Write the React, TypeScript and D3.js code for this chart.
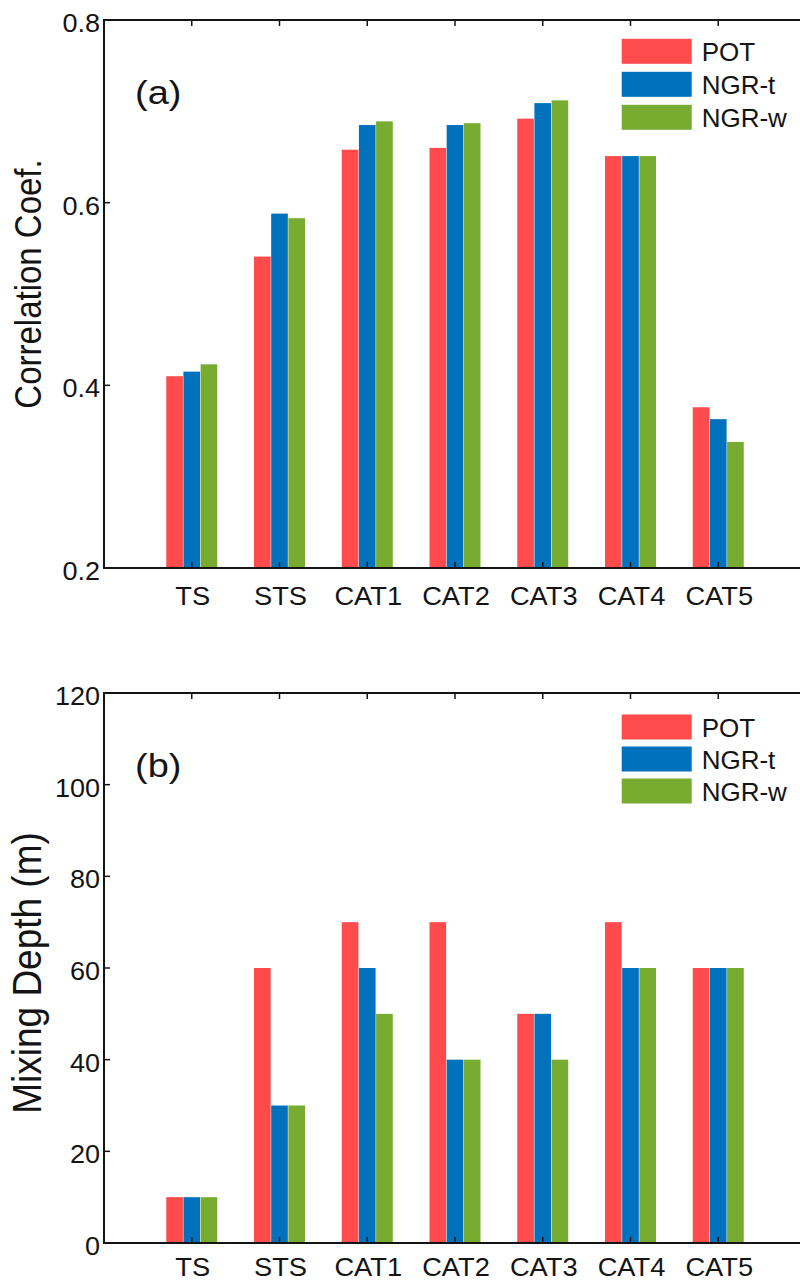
import React from "react";
import * as d3 from "d3";

const categories = ["TS", "STS", "CAT1", "CAT2", "CAT3", "CAT4", "CAT5"];
const seriesNames = ["POT", "NGR-t", "NGR-w"];
const seriesColors = ["#FF4B4B", "#0072BD", "#77AC30"];

const corrPOT = [0.41, 0.541, 0.658, 0.66, 0.692, 0.651, 0.376];
const corrNGRt = [0.415, 0.588, 0.685, 0.685, 0.709, 0.651, 0.363];
const corrNGRw = [0.423, 0.583, 0.689, 0.687, 0.712, 0.651, 0.338];
const corrTicks = [0.2, 0.4, 0.6, 0.8];

const depthPOT = [10, 60, 70, 70, 50, 70, 60];
const depthNGRt = [10, 30, 60, 40, 50, 60, 60];
const depthNGRw = [10, 30, 50, 40, 40, 60, 60];
const depthTicks = [0, 20, 40, 60, 80, 100, 120];

const FONT = "'Liberation Sans', Arial, Helvetica, sans-serif";
const INK = "#141414";

type PanelProps = {
  top: number;
  bottom: number;
  domain: [number, number];
  ticks: number[];
  fmt: (v: number) => string;
  series: number[][];
  yLabel: string;
  yLabelY: number;
  yLabelSize: number;
  panelLabel: string;
  panelLabelY: number;
  xLabelY: number;
  legendTop: number;
  legendStep: number;
};

function Panel(p: PanelProps) {
  const x = d3.scaleLinear().domain([0, categories.length + 1]).range([104, 806]);
  const y = d3.scaleLinear().domain(p.domain).range([p.bottom, p.top]);
  const inner = d3.scaleBand<string>().domain(seriesNames).range([-25.5, 25.5]).paddingInner(0.03);
  const left = x(0);
  const right = x(categories.length + 1);
  const tickLen = 6;
  const idx = d3.range(1, categories.length + 1);
  return (
    <g>
      {p.series.map((vals, s) =>
        vals.map((v, i) => {
          const cx = x(i + 1);
          const bx = cx + (inner(seriesNames[s]) as number);
          return (
            <rect
              key={`b${s}-${i}`}
              x={bx}
              y={y(v)}
              width={inner.bandwidth()}
              height={y(p.domain[0]) - y(v)}
              fill={seriesColors[s]}
            />
          );
        })
      )}
      <rect x={left} y={p.top} width={right - left} height={p.bottom - p.top} fill="none" stroke={INK} strokeWidth={2} />
      {idx.map((i) => (
        <g key={`xt${i}`}>
          <line x1={x(i)} x2={x(i)} y1={p.bottom} y2={p.bottom - tickLen} stroke={INK} strokeWidth={1.5} />
          <line x1={x(i)} x2={x(i)} y1={p.top} y2={p.top + tickLen} stroke={INK} strokeWidth={1.5} />
          <text
            transform={`translate(${x(i) + 1},${p.xLabelY}) scale(1.05,1)`}
            textAnchor="middle"
            fontFamily={FONT}
            fontSize={26}
            fill={INK}
          >
            {categories[i - 1]}
          </text>
        </g>
      ))}
      {p.ticks.map((t) => (
        <g key={`yt${t}`}>
          <line x1={left} x2={left + tickLen} y1={y(t)} y2={y(t)} stroke={INK} strokeWidth={1.5} />
          <line x1={right} x2={right - tickLen} y1={y(t)} y2={y(t)} stroke={INK} strokeWidth={1.5} />
          <text
            transform={`translate(${left - 4},${y(t) + 12}) scale(1.04,1)`}
            textAnchor="end"
            fontFamily={FONT}
            fontSize={26}
            fill={INK}
          >
            {p.fmt(t)}
          </text>
        </g>
      ))}
      <text
        transform={`translate(41,${p.yLabelY}) scale(1.1,1) rotate(-90)`}
        textAnchor="middle"
        fontFamily={FONT}
        fontSize={p.yLabelSize}
        fill={INK}
      >
        {p.yLabel}
      </text>
      <text
        transform={`translate(135,${p.panelLabelY}) scale(1.15,1)`}
        fontFamily={FONT}
        fontSize={33}
        fill={INK}
      >
        {p.panelLabel}
      </text>
      {seriesNames.map((n, s) => {
        const cy = p.legendTop + s * p.legendStep;
        return (
          <g key={`lg${s}`}>
            <rect x={621.7} y={cy - 12.5} width={70} height={25} fill={seriesColors[s]} />
            <text x={701.7} y={cy + 9.5} fontFamily={FONT} fontSize={26} fill={INK}>
              {n}
            </text>
          </g>
        );
      })}
    </g>
  );
}

export default function App() {
  return (
    <div style={{ position: "absolute", left: 0, top: 0, width: 800, height: 1282, overflow: "hidden", background: "#fff" }}>
      <svg width={800} height={1282} style={{ display: "block" }}>
        <rect x={0} y={0} width={800} height={1282} fill="#fff" />
        <Panel
          top={20}
          bottom={568}
          domain={[0.2, 0.8]}
          ticks={corrTicks}
          fmt={(v) => d3.format(".1f")(v)}
          series={[corrPOT, corrNGRt, corrNGRw]}
          yLabel="Correlation Coef."
          yLabelY={284}
          yLabelSize={33}
          panelLabel="(a)"
          panelLabelY={104}
          xLabelY={605}
          legendTop={51.3}
          legendStep={33}
        />
        <Panel
          top={693}
          bottom={1243}
          domain={[0, 120]}
          ticks={depthTicks}
          fmt={(v) => d3.format("d")(v)}
          series={[depthPOT, depthNGRt, depthNGRw]}
          yLabel="Mixing Depth (m)"
          yLabelY={973}
          yLabelSize={37}
          panelLabel="(b)"
          panelLabelY={777}
          xLabelY={1276}
          legendTop={727}
          legendStep={32}
        />
      </svg>
    </div>
  );
}
